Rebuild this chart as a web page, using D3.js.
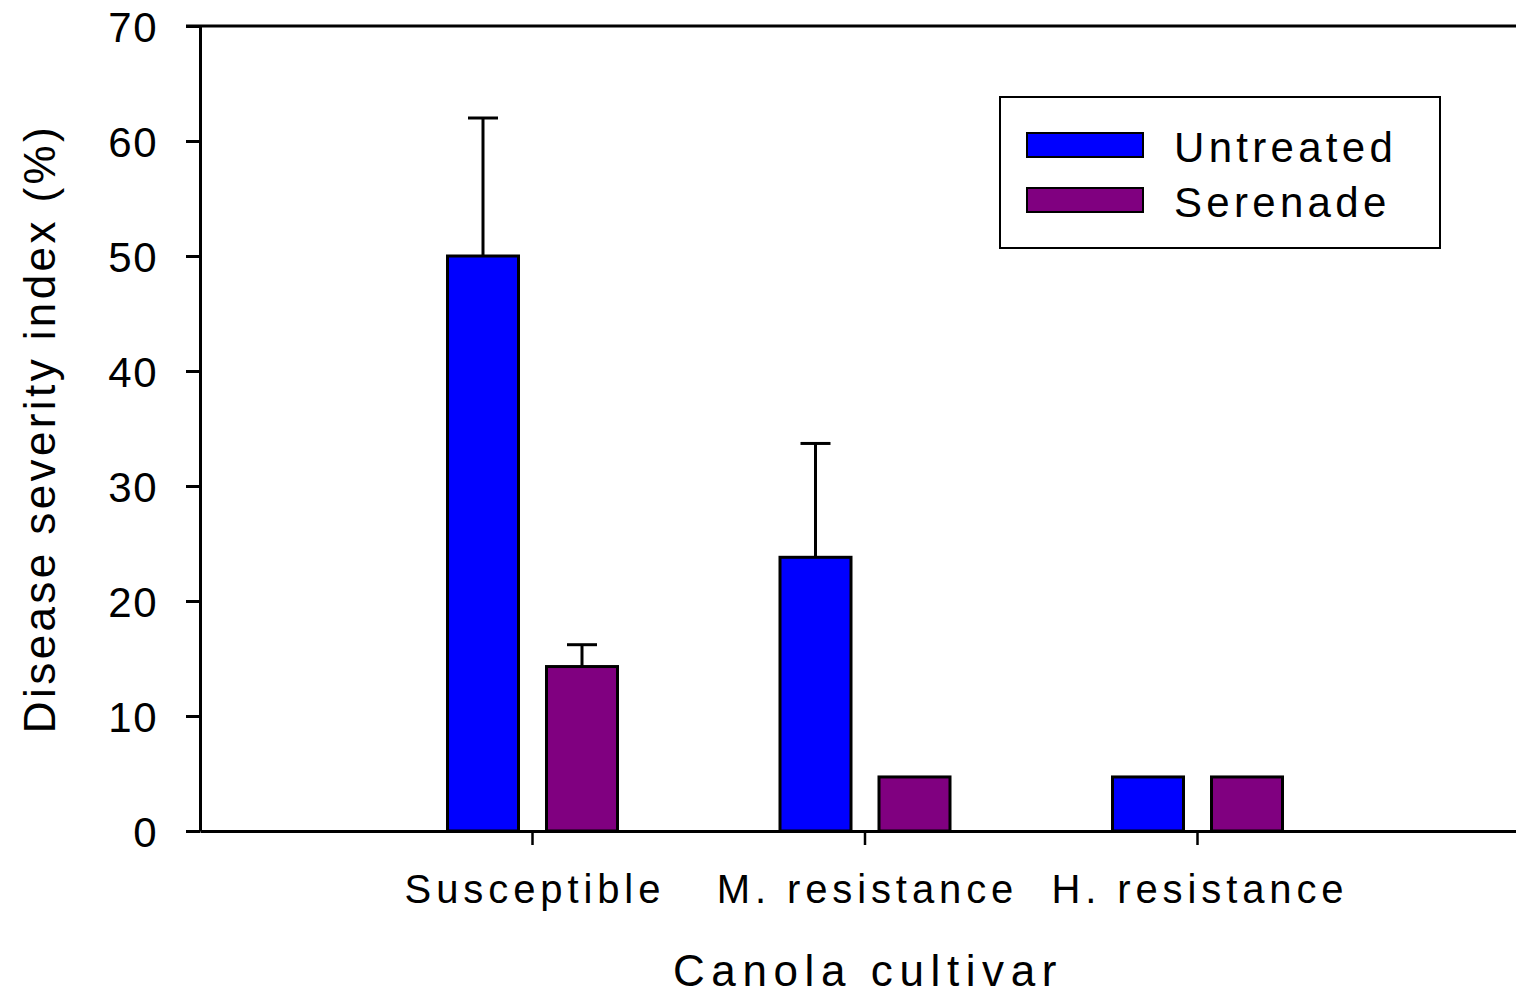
<!DOCTYPE html>
<html>
<head>
<meta charset="utf-8">
<script src="https://cdn.jsdelivr.net/npm/d3@7"></script>
<style>
  html, body { margin: 0; padding: 0; background: #fff; overflow: hidden; }
  svg { display: block; font-family: "Liberation Sans", Arial, sans-serif; }
</style>
</head>
<body>
<svg id="chart" width="1516" height="995"></svg>
<script>
// Disease severity index by canola cultivar, untreated vs. Serenade
const cultivars = ["Susceptible", "M. resistance", "H. resistance"];
const seriesNames = ["Untreated", "Serenade"];
const seriesColors = ["#0000ff", "#800080"];
const untreatedMean = [50.0, 23.8, 4.7];
const untreatedErr = [12.0, 9.9, 0];
const serenadeMean = [14.3, 4.7, 4.7];
const serenadeErr = [1.9, 0, 0];
const yTicks = [0, 10, 20, 30, 40, 50, 60, 70];

const means = [untreatedMean, serenadeMean];
const errs = [untreatedErr, serenadeErr];

const rows = [];
cultivars.forEach((c, i) => {
  seriesNames.forEach((s, j) => {
    rows.push({ cultivar: c, series: s, color: seriesColors[j], mean: means[j][i], err: errs[j][i] });
  });
});

const svg = d3.select("#chart");
const plotLeft = 200, plotRight = 1530, plotTop = 26, plotBottom = 831;

const x = d3.scaleBand().domain(cultivars).range([plotLeft, plotRight]).paddingInner(0).paddingOuter(0.5);
const xInner = d3.scaleBand().domain(seriesNames).range([-85, 85]).paddingInner(28 / 99).paddingOuter(0);
const y = d3.scaleLinear().domain([0, 70]).range([plotBottom, plotTop]);

// top and right frame lines
svg.append("path")
  .attr("d", `M${plotLeft - 14},${plotTop}H${plotRight}V${plotBottom}`)
  .attr("fill", "none").attr("stroke", "#000").attr("stroke-width", 3);

// bars
const bars = svg.append("g");
bars.selectAll("rect").data(rows).enter().append("rect")
  .attr("x", d => x(d.cultivar) + x.bandwidth() / 2 + xInner(d.series))
  .attr("y", d => y(d.mean))
  .attr("width", xInner.bandwidth())
  .attr("height", d => y(0) - y(d.mean))
  .attr("fill", d => d.color)
  .attr("stroke", "#000").attr("stroke-width", 3);

// upper error bars
const errRows = rows.filter(d => d.err > 0);
const eb = svg.append("g").attr("stroke", "#000").attr("stroke-width", 3).attr("fill", "none");
errRows.forEach(d => {
  const cx = x(d.cultivar) + x.bandwidth() / 2 + xInner(d.series) + xInner.bandwidth() / 2;
  eb.append("line").attr("x1", cx).attr("x2", cx).attr("y1", y(d.mean)).attr("y2", y(d.mean + d.err));
  eb.append("line").attr("x1", cx - 15).attr("x2", cx + 15).attr("y1", y(d.mean + d.err)).attr("y2", y(d.mean + d.err));
});

// y axis
const yAxis = svg.append("g").attr("transform", `translate(${plotLeft},0)`)
  .call(d3.axisLeft(y).tickValues(yTicks).tickSize(14).tickPadding(28).tickSizeOuter(0));
yAxis.select(".domain").attr("stroke-width", 3);
yAxis.selectAll(".tick line").attr("stroke-width", 3);
yAxis.selectAll(".tick text")
  .attr("font-size", 42).attr("font-family", "Liberation Sans, Arial, sans-serif")
  .attr("fill", "#000").style("letter-spacing", "1.5px").attr("dy", "0.36em");

// x axis
const xAxis = svg.append("g").attr("transform", `translate(0,${plotBottom})`)
  .call(d3.axisBottom(x).tickSize(14).tickPadding(30).tickSizeOuter(0));
xAxis.select(".domain").attr("stroke-width", 3);
xAxis.selectAll(".tick line").attr("stroke-width", 2.5);
xAxis.selectAll(".tick text")
  .attr("font-size", 40).attr("font-family", "Liberation Sans, Arial, sans-serif")
  .attr("fill", "#000").style("letter-spacing", "4.9px").attr("dx", "2.45px");

// axis titles
svg.append("text")
  .attr("x", (plotLeft + plotRight) / 2 + 3).attr("y", 986)
  .attr("text-anchor", "middle").attr("font-size", 44)
  .style("letter-spacing", "6.6px")
  .text("Canola cultivar");

svg.append("text")
  .attr("transform", `translate(55,${(plotTop + plotBottom) / 2}) rotate(-90)`)
  .attr("text-anchor", "middle").attr("font-size", 44)
  .style("letter-spacing", "3.4px")
  .text("Disease severity index (%)");

// legend
const legend = svg.append("g");
legend.append("rect").attr("x", 1000).attr("y", 97).attr("width", 440).attr("height", 151)
  .attr("fill", "#fff").attr("stroke", "#000").attr("stroke-width", 2);
seriesNames.forEach((s, i) => {
  const ly = 133 + i * 55;
  legend.append("rect").attr("x", 1027).attr("y", ly).attr("width", 116).attr("height", 24)
    .attr("fill", seriesColors[i]).attr("stroke", "#000").attr("stroke-width", 2);
  legend.append("text").attr("x", 1174).attr("y", ly + 29)
    .attr("font-size", 42).style("letter-spacing", "4.3px").text(s);
});
</script>
</body>
</html>
